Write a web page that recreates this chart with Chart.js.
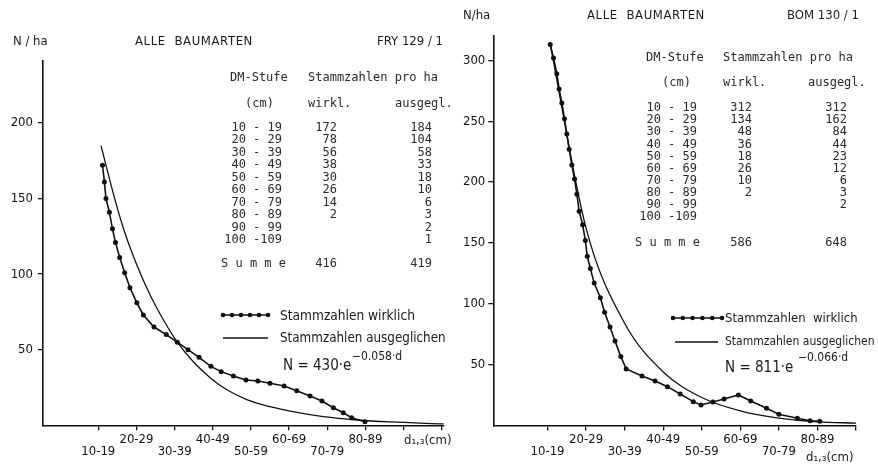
<!DOCTYPE html>
<html><head><meta charset="utf-8">
<script src="https://cdn.jsdelivr.net/npm/chart.js@4"></script>
<style>
html,body{margin:0;padding:0;background:#fff;}
#wrap{position:relative;width:878px;height:465px;overflow:hidden;background:#fff;}
canvas{position:absolute;top:0;}
.t{position:absolute;white-space:pre;color:#1a1a1a;line-height:14px;}
.hand{font-family:"DejaVu Sans Condensed","DejaVu Sans",sans-serif;font-size:13px;}
.mono{font-family:"DejaVu Sans Mono",monospace;font-size:12px;color:#2a2a2a;}
</style></head><body><div id="wrap">
<canvas id="c1" width="460" height="465" style="left:0;width:460px;height:465px"></canvas>
<canvas id="c2" width="438" height="465" style="left:440px;width:438px;height:465px"></canvas>
</div>
<script>
// ---- table data (DM-Stufe classes) ----
const classLabels = ['10 - 19','20 - 29','30 - 39','40 - 49','50 - 59','60 - 69','70 - 79','80 - 89','90 - 99','100 -109'];
const classMid = [15,25,35,45,55,65,75,85,95,105];
const xTickLabels = ['10-19','20-29','30-39','40-49','50-59','60-69','70-79','80-89'];
const fryWirkl = [172,78,56,38,30,26,14,2,null,null];
const fryAusgegl = [184,104,58,33,18,10,6,3,2,1];
const frySumme = [416,419];
const bomWirkl = [312,134,48,36,18,26,10,2,null,null];
const bomAusgegl = [312,162,84,44,23,12,6,3,2,null];
const bomSumme = [586,648];
const fryYTicks = [50,100,150,200];
const bomYTicks = [50,100,150,200,250,300];

// ---- curves (d in cm, N per ha) ----
const fryDotD = [16.1,16.6,17.0,17.9,18.7,19.5,20.6,21.9,23.3,25.1,26.8,29.6,32.8,35.7,38.5,41.4,44.5,47.2,50.4,53.7,56.8,60.0,63.7,67.0,70.5,73.6,76.6,79.2,81.4,84.9];
const fryDotN = [172,161,150,141,130,121,111,101,91,81,73,65,60,55,50,45,39,35.5,32.6,30,29.3,27.8,26,22.9,19.4,16.1,11.6,8.3,5,2.4];
const fryFitD = [15.7,19.4,22,25.1,28.6,32,35.7,39.9,44.3,48.7,53.9,60,67,74,82.8,91.5,105.5];
const fryFitN = [185,149,127,106,86,70,55,42,31.5,23.5,17,12.3,8.5,5.7,3.5,2.2,0.9];
const bomDotD = [15.7,16.55,17.4,18.0,18.7,19.4,20.0,20.6,21.3,22.0,22.6,23.2,24.1,24.8,25.3,26.1,27.1,28.7,29.8,31.2,32.5,34.0,35.4,39.5,42.9,46.1,49.4,52.8,54.8,57.9,60.8,64.5,67.7,71.8,75.0,79.8,83.1,85.6];
const bomDotN = [313,302,289,276.5,265,252,239.5,227,214,202.5,190,176,165,152,139,129,117,105,93,81,69.5,56.6,46.5,40.7,36.6,31.9,25.9,19.6,16.9,19.3,21.8,25.1,20.1,14.1,9.2,5.9,3.9,3.5];
const bomFitD = [15.7,25,35,45,55,65,75,85,95];
const bomFitN = [313,162,84,44,23,12,6,3,2];

const INK = '#111';
const HAND = '"DejaVu Sans Condensed","DejaVu Sans",sans-serif';

const legendSamples = {
  id:'legendSamples',
  afterDraw(chart, args, o){
    const ctx = chart.ctx; ctx.save();
    ctx.strokeStyle = INK; ctx.fillStyle = INK;
    ctx.lineWidth = 1.6; ctx.beginPath(); ctx.moveTo(o.x0,o.y1); ctx.lineTo(o.x1,o.y1); ctx.stroke();
    for (let i=0;i<6;i++){ const x=o.x0+(o.x1-o.x0)*i/5; ctx.beginPath(); ctx.arc(x,o.y1,2.3,0,Math.PI*2); ctx.fill(); }
    ctx.lineWidth = 1.3; ctx.beginPath(); ctx.moveTo(o.x2,o.y2); ctx.lineTo(o.x3,o.y2); ctx.stroke();
    ctx.restore();
  }
};

function pts(D,N){ return D.map((d,i)=>({x:d,y:N[i]})); }
function xLabel(v){
  const i = classMid.indexOf(v);
  if (i < 0 || i >= xTickLabels.length) return '';
  return (i % 2 === 0) ? ['', xTickLabels[i]] : xTickLabels[i];
}

function makeChart(id, o){
  return new Chart(document.getElementById(id), {
    type:'scatter',
    data:{datasets:[
      {label:'Stammzahlen wirklich', data:pts(o.dotD,o.dotN), showLine:true, borderColor:INK, borderWidth:1.6,
       pointRadius:2.5, pointBackgroundColor:INK, pointBorderWidth:0, tension:0},
      {label:'Stammzahlen ausgeglichen', data:pts(o.fitD,o.fitN), showLine:true, borderColor:INK, borderWidth:1.3,
       pointRadius:0, cubicInterpolationMode:'monotone'}
    ]},
    options:{
      responsive:false, animation:false, events:[],
      layout:{padding:{left:0,top:o.top,right:o.right,bottom:0}},
      plugins:{legend:{display:false}, tooltip:{enabled:false}, legendSamples:o.leg},
      scales:{
        x:{type:'linear', min:o.xmin, max:o.xmax,
           afterFit(s){ s.height = o.xh; },
           afterBuildTicks(s){ s.ticks = o.xticks.map(v=>({value:v})); },
           ticks:{autoSkip:false, maxRotation:0, minRotation:0, padding:o.xpad, color:INK,
                  font:{family:HAND,size:13,lineHeight:0.92}, callback:(v)=>xLabel(v)},
           grid:{drawOnChartArea:false, drawTicks:true, tickLength:5, color:INK, lineWidth:1.3},
           border:{color:INK, width:1.6}},
        y:{type:'linear', min:0, max:o.ymax,
           afterFit(s){ s.width = o.yw; },
           afterBuildTicks(s){ s.ticks = o.yticks.map(v=>({value:v})); },
           ticks:{autoSkip:false, padding:o.ypad, color:INK, font:{family:HAND,size:13}},
           grid:{drawOnChartArea:false, drawTicks:true, tickLength:5, color:INK, lineWidth:1.3},
           border:{color:INK, width:1.6}}
      }
    },
    plugins:[legendSamples]
  });
}

makeChart('c1', {dotD:fryDotD, dotN:fryDotN, fitD:fryFitD, fitN:fryFitN,
  top:61, right:16, xh:39.7, yw:43, xmin:0.5, xmax:105.6, ymax:241,
  xticks:classMid, yticks:fryYTicks, xpad:3.7, ypad:5,
  leg:{x0:223,x1:268,y1:315,x2:223,x3:268,y2:338}});
makeChart('c2', {dotD:bomDotD, dotN:bomDotN, fitD:bomFitD, fitN:bomFitN,
  top:36, right:22, xh:39.5, yw:53.3, xmin:0.93, xmax:95, ymax:320,
  xticks:classMid.slice(0,9), yticks:bomYTicks, xpad:3.5, ypad:3,
  leg:{x0:233,x1:282,y1:318,x2:235,x3:278,y2:342}});

// ---- text ----
const wrap = document.getElementById('wrap');
function addText(txt, x, cy, cls, right, style){
  const d = document.createElement('div');
  d.className = 't ' + cls; d.textContent = txt;
  d.style.left = x + 'px'; d.style.top = (cy - 7) + 'px';
  if (right) d.style.transform = 'translateX(-100%)';
  if (style) Object.assign(d.style, style);
  wrap.appendChild(d); return d;
}
function addTable(p, wirkl, ausg, summe){
  addText('DM-Stufe', p.c0, p.h1, 'mono');
  addText('Stammzahlen pro ha', p.c1, p.h1, 'mono');
  addText('(cm)', p.c0b, p.h2, 'mono');
  addText('wirkl.', p.c1, p.h2, 'mono');
  addText('ausgegl.', p.c2, p.h2, 'mono');
  classLabels.forEach((lab,i)=>{
    const cy = p.r0 + i*p.dr;
    addText(lab, p.e0, cy, 'mono', true);
    if (wirkl[i] != null) addText(String(wirkl[i]), p.e1, cy, 'mono', true);
    if (ausg[i] != null) addText(String(ausg[i]), p.e2, cy, 'mono', true);
  });
  addText('S u m m e', p.cs, p.rs, 'mono');
  addText(String(summe[0]), p.e1, p.rs, 'mono', true);
  addText(String(summe[1]), p.e2, p.rs, 'mono', true);
}

// left panel
addText('N / ha', 13, 41, 'hand');
addText('ALLE  BAUMARTEN', 135, 41, 'hand', false, {letterSpacing:'0.6px'});
addText('FRY 129 / 1', 377, 41, 'hand');
addTable({c0:230,c1:308,c0b:245,c2:395,h1:77,h2:103,e0:282,e1:337,e2:432,r0:126.7,dr:12.48,cs:221,rs:262.7},
  fryWirkl, fryAusgegl, frySumme);
addText('Stammzahlen wirklich', 280, 315, 'hand', false, {fontSize:'13.6px'});
addText('Stammzahlen ausgeglichen', 280, 338, 'hand', false, {fontSize:'13.3px'});
addText('N = 430·e', 283, 365, 'hand', false, {fontSize:'15px'});
addText('−0.058·d', 352, 356, 'hand', false, {fontSize:'12px'});
addText('d₁,₃(cm)', 404, 440, 'hand');

// right panel
addText('N/ha', 463, 15, 'hand');
addText('ALLE  BAUMARTEN', 587, 15, 'hand', false, {letterSpacing:'0.6px'});
addText('BOM 130 / 1', 787, 15, 'hand');
addTable({c0:646,c1:723,c0b:662,c2:808,h1:57,h2:82,e0:697,e1:752,e2:847,r0:107.3,dr:12.08,cs:635,rs:242.3},
  bomWirkl, bomAusgegl, bomSumme);
addText('Stammzahlen  wirklich', 725, 318, 'hand');
addText('Stammzahlen ausgeglichen', 725, 341, 'hand', false, {fontSize:'12px'});
addText('N = 811·e', 725, 367, 'hand', false, {fontSize:'15px'});
addText('−0.066·d', 798, 357, 'hand', false, {fontSize:'12px'});
addText('d₁,₃(cm)', 806, 457, 'hand');
</script>
</body></html>
